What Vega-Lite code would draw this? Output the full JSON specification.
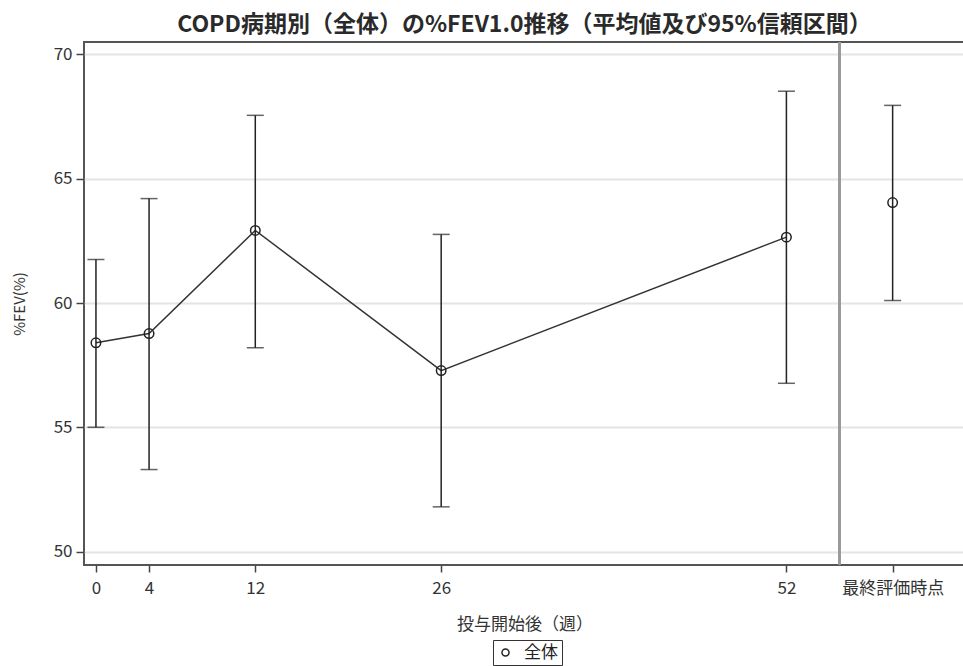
{
  "$schema": "https://vega.github.io/schema/vega-lite/v6.json",
  "width": 881,
  "height": 523,
  "autosize": {"type": "none"},
  "padding": {"left": 84, "top": 42, "right": 0, "bottom": 101},
  "background": "white",
  "title": {
    "text": "COPD病期別（全体）の%FEV1.0推移（平均値及び95%信頼区間）",
    "font": "Noto Sans CJK JP",
    "fontSize": 23,
    "fontWeight": "bold",
    "color": "#2a2a2a",
    "anchor": "middle",
    "offset": 4
  },
  "config": {
    "font": "Noto Sans CJK JP",
    "view": {"stroke": "#555", "strokeWidth": 2},
    "axis": {
      "domain": false,
      "tickColor": "#444",
      "tickWidth": 1.5,
      "labelColor": "#333",
      "titleColor": "#333",
      "labelFont": "Noto Sans CJK JP",
      "titleFont": "Noto Sans CJK JP",
      "titleFontWeight": "normal"
    }
  },
  "data": {
    "values": [
      {"week": 0, "mean": 58.4, "lower": 55.0, "upper": 61.75, "visit": "週"},
      {"week": 4, "mean": 58.77, "lower": 53.3, "upper": 64.2, "visit": "週"},
      {"week": 12, "mean": 62.92, "lower": 58.2, "upper": 67.55, "visit": "週"},
      {"week": 26, "mean": 57.28, "lower": 51.8, "upper": 62.76, "visit": "週"},
      {"week": 52, "mean": 62.65, "lower": 56.77, "upper": 68.52, "visit": "週"},
      {"week": 60, "mean": 64.04, "lower": 60.1, "upper": 67.95, "visit": "最終"}
    ]
  },
  "encoding": {
    "x": {
      "field": "week",
      "type": "quantitative",
      "scale": {"domain": [-0.9, 65.45], "nice": false, "zero": false},
      "axis": {
        "title": "投与開始後（週）",
        "values": [0, 4, 12, 26, 52, 60],
        "labelExpr": "datum.value == 60 ? '最終評価時点' : datum.label",
        "labelFontSize": 17,
        "titleFontSize": 17,
        "tickSize": 7,
        "labelPadding": 8,
        "titlePadding": 20,
        "grid": false
      }
    }
  },
  "layer": [
    {
      "mark": {"type": "rule", "color": "#999", "strokeWidth": 2},
      "encoding": {
        "x": {"datum": 56, "type": "quantitative"}
      }
    },
    {
      "transform": [{"filter": "datum.visit == '週'"}],
      "mark": {"type": "line", "color": "#333", "strokeWidth": 1.5},
      "encoding": {
        "y": {
          "field": "mean",
          "type": "quantitative",
          "title": "%FEV(%)",
          "scale": {"domain": [49.46, 70.5], "nice": false, "zero": false},
          "axis": {
            "values": [50, 55, 60, 65, 70],
            "grid": true,
            "gridColor": "#e4e4e4",
            "gridWidth": 2,
            "labelFontSize": 17,
            "titleFontSize": 15,
            "tickSize": 8,
            "labelPadding": 4,
            "titlePadding": 26
          }
        }
      }
    },
    {
      "mark": {
        "type": "errorbar",
        "color": "#222",
        "rule": {"strokeWidth": 1.5},
        "ticks": {"size": 17, "thickness": 1.5, "color": "#222"}
      },
      "encoding": {
        "y": {"field": "lower", "type": "quantitative", "title": "%FEV(%)"},
        "y2": {"field": "upper"}
      }
    },
    {
      "mark": {"type": "point", "filled": false, "stroke": "#222", "strokeWidth": 1.5, "size": 90, "opacity": 1},
      "encoding": {
        "y": {"field": "mean", "type": "quantitative", "title": "%FEV(%)"},
        "shape": {
          "datum": "全体",
          "type": "nominal",
          "scale": {"range": ["circle"]},
          "legend": {
            "title": null,
            "orient": "none",
            "legendX": 409,
            "legendY": 598,
            "strokeColor": "#333",
            "fillColor": "white",
            "padding": 4,
            "symbolSize": 50,
            "symbolStrokeColor": "#222",
            "symbolStrokeWidth": 1.5,
            "symbolFillColor": "transparent",
            "labelOffset": 10,
            "labelFontSize": 17,
            "labelColor": "#222",
            "labelFont": "Noto Sans CJK JP"
          }
        }
      }
    }
  ]
}
